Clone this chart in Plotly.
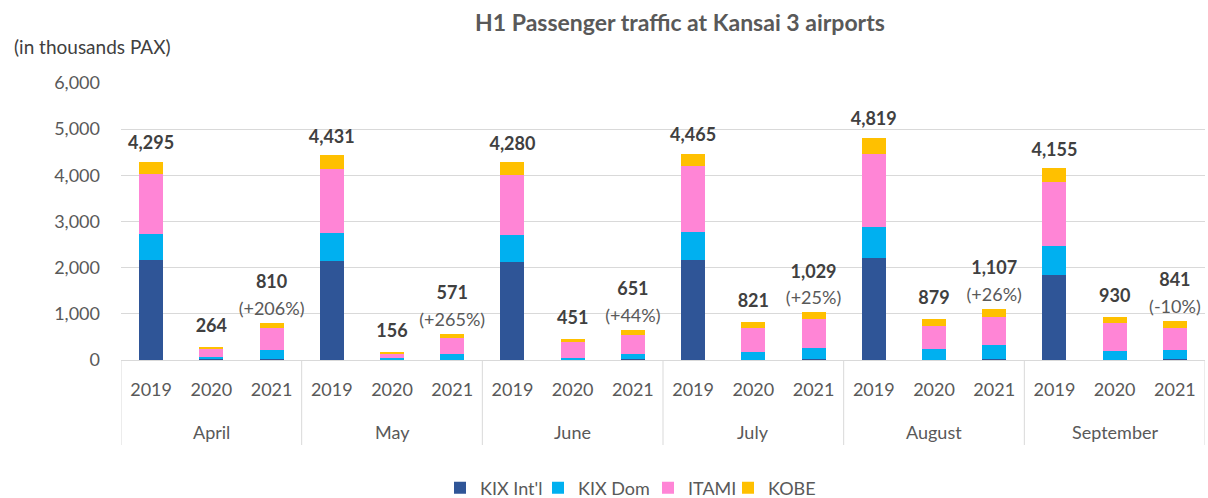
import plotly.graph_objects as go

months = ["April", "May", "June", "July", "August", "September"]
years = ["2019", "2020", "2021"]

kix_intl = [2166, 15, 12, 2135, 8, 10, 2130, 10, 12, 2165, 10, 15, 2207, 10, 15, 1852, 10, 12]
kix_dom = [566, 55, 195, 625, 30, 120, 567, 40, 112, 617, 171, 238, 669, 221, 318, 617, 193, 212]
itami = [1307, 170, 479, 1379, 95, 336, 1307, 333, 414, 1416, 508, 627, 1597, 510, 589, 1387, 594, 466]
kobe = [256, 24, 124, 292, 23, 105, 276, 68, 113, 267, 132, 149, 346, 138, 185, 299, 133, 151]

totals = [4295, 264, 810, 4431, 156, 571, 4280, 451, 651, 4465, 821, 1029, 4819, 879, 1107, 4155, 930, 841]
changes = ["", "", "+206%", "", "", "+265%", "", "", "+44%", "", "", "+25%", "", "", "+26%", "", "", "-10%"]

series_names = ["KIX Int'l", "KIX Dom", "ITAMI", "KOBE"]
series_colors = ["#2F5597", "#00B0F0", "#FF85D6", "#FFC000"]

FONT = "Lato, sans-serif"
cats = [f"{m} {y}" for m in months for y in years]
year_text = [y for _ in months for y in years]

# legend text left edges (pixels) as in reference
legend_px = [477, 575, 685, 765]

fig = go.Figure()
for k, (name, vals, col) in enumerate(zip(series_names, [kix_intl, kix_dom, itami, kobe], series_colors)):
    fig.add_trace(go.Bar(x=cats, y=vals, name=name, marker=dict(color=col, line=dict(width=0)),
                         legend="legend" if k == 0 else f"legend{k + 1}"))

total_labels, total_sizes, pct_labels = [], [], []
for t, c, yr in zip(totals, changes, year_text):
    total_labels.append(f"<b>{t:,}</b>")
    if c:
        total_sizes.append(47)
        pct_labels.append(f"({c})")
    else:
        total_sizes.append(11 if yr == "2019" else 16)
        pct_labels.append("")

fig.add_trace(go.Scatter(
    x=cats, y=totals, mode="markers+text", text=total_labels, textposition="top center",
    marker=dict(size=total_sizes, color="rgba(0,0,0,0)", opacity=0, line=dict(width=0)),
    textfont=dict(family=FONT, size=18, color="#404040"),
    showlegend=False, hoverinfo="skip", cliponaxis=False,
))
fig.add_trace(go.Scatter(
    x=cats, y=totals, mode="markers+text", text=pct_labels, textposition="top center",
    marker=dict(size=4, color="rgba(0,0,0,0)", opacity=0, line=dict(width=0)),
    textfont=dict(family=FONT, size=18, color="#595959"),
    showlegend=False, hoverinfo="skip", cliponaxis=False,
))

n = len(cats)
legend_common = dict(orientation="h", xref="container", xanchor="left", yref="container",
                     y=1 - 488 / 498, yanchor="middle", font=dict(size=18, color="#595959"),
                     itemwidth=30, bgcolor="rgba(0,0,0,0)")
fig.update_layout(
    barmode="stack",
    bargap=0.6,
    width=1208, height=498,
    margin=dict(l=121, r=3, t=83, b=138, autoexpand=False),
    paper_bgcolor="white", plot_bgcolor="white",
    font=dict(family=FONT, size=18, color="#595959"),
    title=dict(text="<b>H1 Passenger traffic at Kansai 3 airports</b>", x=680 / 1208, xanchor="center",
               y=1 - 23 / 498, yanchor="middle", font=dict(size=23, color="#595959")),
    legend=dict(x=(legend_px[0] - 37) / 1208, **legend_common),
    legend2=dict(x=(legend_px[1] - 37) / 1208, **legend_common),
    legend3=dict(x=(legend_px[2] - 37) / 1208, **legend_common),
    legend4=dict(x=(legend_px[3] - 37) / 1208, **legend_common),
    showlegend=True,
)
fig.update_yaxes(range=[0, 6000], tickvals=[0, 1000, 2000, 3000, 4000, 5000, 6000],
                 tickformat=",", showgrid=True, gridcolor="#D9D9D9", gridwidth=1,
                 zeroline=False, ticklabelstandoff=20, tickfont=dict(size=18, color="#595959"))
fig.update_xaxes(type="category", range=[-0.5, n - 0.5], tickvals=cats, ticktext=year_text,
                 showline=True, linecolor="#D9D9D9", linewidth=1, showgrid=False,
                 ticks="", ticklabelstandoff=13, tickfont=dict(size=18, color="#595959"))

# group dividers
for i in range(len(months) + 1):
    fig.add_shape(type="line", xref="x", yref="paper", x0=i * 3 - 0.5, x1=i * 3 - 0.5,
                  y0=0, y1=-85 / 277, line=dict(color="#D9D9D9", width=1))
# month labels
for i, m in enumerate(months):
    fig.add_annotation(text=m, xref="x", yref="paper", x=i * 3 + 1, y=-72 / 277, yanchor="middle",
                       showarrow=False, font=dict(size=18, color="#595959"))

fig.add_annotation(text="(in thousands PAX)", xref="paper", yref="paper", x=-109 / 1084, xanchor="left",
                   y=1 + 36 / 277, yanchor="middle", showarrow=False, font=dict(size=19, color="#404040"))

fig.write_html("out.html", post_script="document.body.style.margin='0';",
               config={"displayModeBar": False})
